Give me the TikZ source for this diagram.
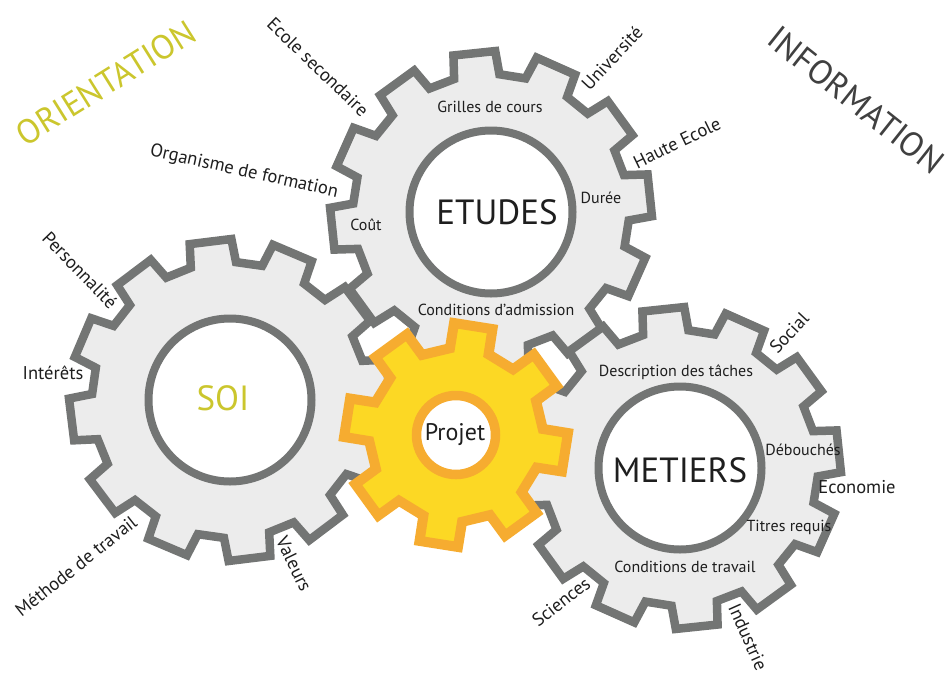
\documentclass[tikz,border=0pt]{standalone}
\usepackage{fontspec}
\setmainfont{PT Sans}
\usepackage{tikz}
\usetikzlibrary{positioning,calc}
\definecolor{gearline}{RGB}{115,117,116}
\definecolor{gearfill}{RGB}{236,236,236}
\definecolor{projfill}{RGB}{252,216,36}
\definecolor{projline}{RGB}{246,172,48}
\definecolor{olive}{RGB}{203,198,45}
\definecolor{ink}{RGB}{30,30,30}

% #1 teeth, #2 offset, #3 tip radius, #4 root radius, #5 tip half angle, #6 root half angle
\newcommand{\gearpath}[6]{%
  ({#2+#6}:#4) \foreach \k in {1,...,#1}{%
    -- ({#2+\k*360/#1-#6}:#4) -- ({#2+\k*360/#1-#5}:#3)
    -- ({#2+\k*360/#1+#5}:#3) -- ({#2+\k*360/#1+#6}:#4)} -- cycle}

\begin{document}
\begin{tikzpicture}[x=1pt, y=-1pt,
    gear/.style={draw=gearline, fill=gearfill, line width=8.5pt},
    hub/.style={circle, draw=gearline, fill=white, line width=8pt, minimum size=163pt, inner sep=0pt},
    projgear/.style={draw=projline, fill=projfill, line width=10pt},
    projhub/.style={circle, draw=projline, fill=white, line width=9.5pt, minimum size=79pt, inner sep=0pt},
    title/.style={text=ink, font=\fontsize{35}{35}\selectfont},
    inlbl/.style={text=ink, font=\fontsize{16}{16}\selectfont, inner sep=0pt},
    outlbl/.style={text=ink, font=\fontsize{18.5}{18.5}\selectfont, inner sep=0pt},
    bigword/.style={font=\fontsize{34}{34}\selectfont, inner sep=0pt}]
  \useasboundingbox (0,0) rectangle (948,673);

  % gears
  \begin{scope}[shift={(491,212)}]
    \draw[gear] \gearpath{12}{-6}{161}{138}{7.5}{9.5};
  \end{scope}
  \node[hub] (etudeshub) at (491,212) {};

  \begin{scope}[shift={(230,400)}]
    \draw[gear] \gearpath{12}{-7}{161}{138}{7.5}{9.5};
  \end{scope}
  \node[hub] (soihub) at (230,400) {};

  \begin{scope}[shift={(680,468)}]
    \draw[gear] \gearpath{12}{-6}{161}{138}{7.5}{9.5};
  \end{scope}
  \node[hub] (metiershub) at (680,468) {};

  \begin{scope}[shift={(456,435)}]
    \draw[projgear] \gearpath{8}{9}{112}{87}{10}{13};
  \end{scope}
  \node[projhub] (projethub) at (456,435) {};

  % titles
  \node[title] (etudes) at (497,212) {ETUDES};
  \node[title, text=olive] (soi) at (223,398) {SOI};
  \node[title] (metiers) at (680,470) {METIERS};
  \node[text=ink, font=\fontsize{24}{24}\selectfont] (projet) at (455,435) {Projet};

  \node[bigword, text=olive, rotate=32] (orientation) at (106,83) {ORIENTATION};
  \node[bigword, text=ink!85, rotate=-38.5] (information) at (856,100) {INFORMATION};

  % labels inside the gears
  \node[inlbl] (grilles) at (490,107) {Grilles de cours};
  \node[inlbl] (cout) at (366,225) {Coût};
  \node[inlbl] (duree) at (601,198) {Durée};
  \node[inlbl] (admission) at (496,310) {Conditions d'admission};
  \node[inlbl] (taches) at (676,372) {Description des tâches};
  \node[inlbl] (debouches) at (803,450) {Débouchés};
  \node[inlbl] (titres) at (789,527) {Titres requis};
  \node[inlbl] (travail) at (685,567) {Conditions de travail};

  % labels around the gears
  \node[outlbl, rotate=-44] (secondaire) at (318,67) {Ecole secondaire};
  \node[outlbl, rotate=47] (universite) at (612,58) {Université};
  \node[outlbl, rotate=26] (haute) at (677,143) {Haute Ecole};
  \node[outlbl, rotate=-12.5] (organisme) at (244,172) {Organisme de formation};
  \node[outlbl, rotate=-46] (personnalite) at (80,270) {Personnalité};
  \node[outlbl] (interets) at (53,373) {Intérêts};
  \node[outlbl, rotate=38.5] (methode) at (76,566) {Méthode de travail};
  \node[outlbl, rotate=-64] (valeurs) at (294,564) {Valeurs};
  \node[outlbl, rotate=47] (social) at (789,333) {Social};
  \node[outlbl] (economie) at (857,487) {Economie};
  \node[outlbl, rotate=38] (sciences) at (561,602) {Sciences};
  \node[outlbl, rotate=-66] (industrie) at (748,637) {Industrie};
\end{tikzpicture}
\end{document}
